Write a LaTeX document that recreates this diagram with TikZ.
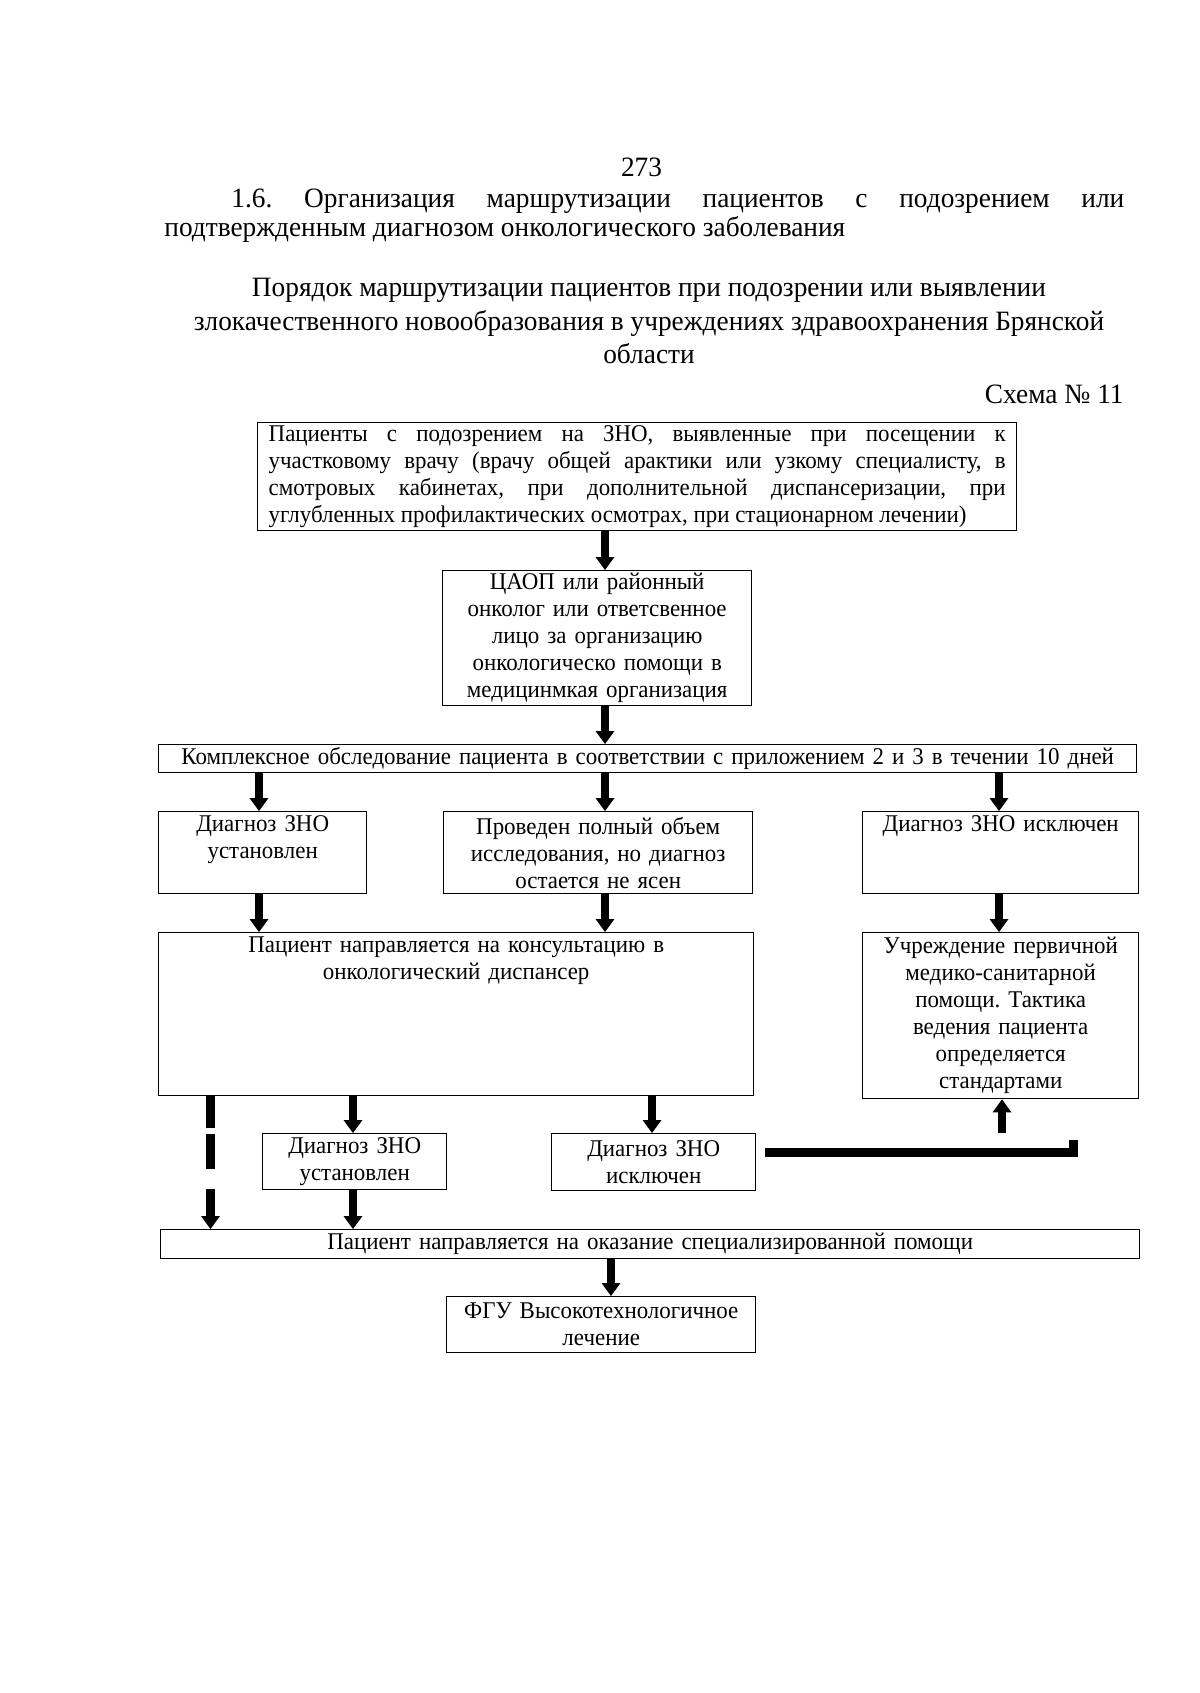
\documentclass[tikz,border=0pt]{standalone}
\usepackage{fontspec}
\setmainfont[FakeStretch=0.955]{Liberation Serif}
\newfontfamily\pagefam[FakeStretch=0.976]{Liberation Serif}
\usetikzlibrary{arrows.meta,calc}
\hyphenpenalty=10000
\exhyphenpenalty=10000
\frenchspacing
\newcommand\boxfont{\fontsize{12}{13.5}\selectfont}
\newcommand\pagefont{\pagefam\fontsize{14}{16.5}\selectfont}

\tikzset{
  blk/.style={draw, line width=0.7pt, anchor=north west, inner xsep=4pt, inner ysep=1pt, align=center, font=\boxfont},
  frame/.style={draw, line width=0.7pt, anchor=north west, inner sep=0pt},
  txt/.style={anchor=north, inner xsep=4pt, inner ysep=2pt, align=center, font=\boxfont},
  arr/.style={line width=4.2pt, -{Triangle[width=9.5pt,length=6.5pt,line width=0pt]}},
  thk/.style={line width=4.5pt},
  pg/.style={font=\pagefont, inner sep=0pt, anchor=base},
}

\begin{document}
\begin{tikzpicture}[x=0.5pt,y=-0.5pt]
\useasboundingbox[fill=white] (0,0) rectangle (1200,1693);

% page heading
\node[pg] (pnum) at (641.5,176) {273};
\node[pg, anchor=base west] (razdel1) at (231,207) {\makebox[446.5pt][s]{1.6. Организация маршрутизации пациентов с подозрением или}};
\node[pg, anchor=base west] (razdel2) at (164,236) {подтвержденным диагнозом онкологического заболевания};
\node[pg] (zag1) at (649,296) {Порядок маршрутизации пациентов при подозрении или выявлении};
\node[pg] (zag2) at (649,330) {злокачественного новообразования в учреждениях здравоохранения Брянской};
\node[pg] (zag3) at (649,363) {области};
\node[pg, anchor=base east] (shema) at (1124,403) {Схема № 11};

% boxes
\node[blk, text width=368.5pt, inner xsep=5.5pt, align=justify, minimum height=54pt] (pac) at (257,422)
  {Пациенты с подозрением на ЗНО, выявленные при посещении к\linebreak участковому врачу (врачу общей арактики или узкому специалисту, в\linebreak смотровых кабинетах, при дополнительной диспансеризации, при\linebreak углубленных профилактических осмотрах, при стационарном лечении)};
\node[blk, text width=146.5pt, minimum height=67.5pt] (caop) at (442,570)
  {ЦАОП или районный\\ онколог или ответсвенное\\ лицо за организацию\\ онкологическо помощи в\\ медицинмкая организация};
\node[blk, text width=481pt, minimum height=14pt] (kompl) at (158,744)
  {Комплексное обследование пациента в соответствии с приложением 2 и 3 в течении 10 дней};

\node[frame, minimum width=104pt, minimum height=41pt] (zno1) at (158,811) {};
\node[txt, text width=96pt] (zno1t) at (zno1.north) {Диагноз ЗНО\\ установлен};
\node[blk, text width=146.5pt, minimum height=41pt] (neyasen) at (443,811)
  {Проведен полный объем\\ исследования, но диагноз\\ остается не ясен};
\node[frame, minimum width=138pt, minimum height=41pt] (isk1) at (862,811) {};
\node[txt, text width=130pt] (isk1t) at (isk1.north) {Диагноз ЗНО исключен};

\node[frame, minimum width=297.5pt, minimum height=81.5pt] (konsult) at (158,932) {};
\node[txt, text width=289.5pt] (konsultt) at (konsult.north) {Пациент направляется на консультацию в\\ онкологический диспансер};
\node[blk, text width=130pt, minimum height=83pt] (pmsp) at (862,932)
  {Учреждение первичной\\ медико-санитарной\\ помощи. Тактика\\ ведения пациента\\ определяется\\ стандартами};

\node[blk, text width=84pt, minimum height=28pt] (zno2) at (262,1133) {Диагноз ЗНО\\ установлен};
\node[blk, text width=94pt, minimum height=28.5pt] (isk2) at (551,1133) {Диагноз ЗНО\\ исключен};
\node[blk, text width=481.5pt, minimum height=14.5pt] (spec) at (160,1229)
  {Пациент направляется на оказание специализированной помощи};
\node[blk, text width=146.5pt, minimum height=28pt] (fgu) at (446,1296) {ФГУ Высокотехнологичное\\ лечение};

% arrow columns
\coordinate (cm) at (605,0);
\coordinate (cl) at (259,0);
\coordinate (cr) at (999,0);
\coordinate (cd) at (210.5,0);
\coordinate (cz) at (353,0);
\coordinate (ci) at (652,0);
\coordinate (cf) at (611,0);

\draw[arr] (pac.south -| cm) -- (caop.north -| cm);
\draw[arr] (caop.south -| cm) -- (kompl.north -| cm);
\draw[arr] (kompl.south -| cl) -- (zno1.north -| cl);
\draw[arr] (kompl.south -| cm) -- (neyasen.north -| cm);
\draw[arr] (kompl.south -| cr) -- (isk1.north -| cr);
\draw[arr] (zno1.south -| cl) -- (konsult.north -| cl);
\draw[arr] (neyasen.south -| cm) -- (konsult.north -| cm);
\draw[arr] (isk1.south -| cr) -- (pmsp.north -| cr);
\draw[arr, dash pattern=on 16pt off 3pt on 17.5pt off 10pt on 60pt] (konsult.south -| cd) -- (spec.north -| cd);
\draw[arr] (konsult.south -| cz) -- (zno2.north -| cz);
\draw[arr] (konsult.south -| ci) -- (isk2.north -| ci);
\draw[arr] (zno2.south -| cz) -- (spec.north -| cz);
\draw[arr] (spec.south -| cf) -- (fgu.north -| cf);

% broken link towards pmsp
\coordinate (obryv) at (1073,1140);
\coordinate (vverh) at (1002,1133);
\draw[thk] ([xshift=4.5pt,yshift=5pt]isk2.east) -| (obryv);
\draw[arr] (vverh) -- (pmsp.south -| vverh);
\end{tikzpicture}
\end{document}
